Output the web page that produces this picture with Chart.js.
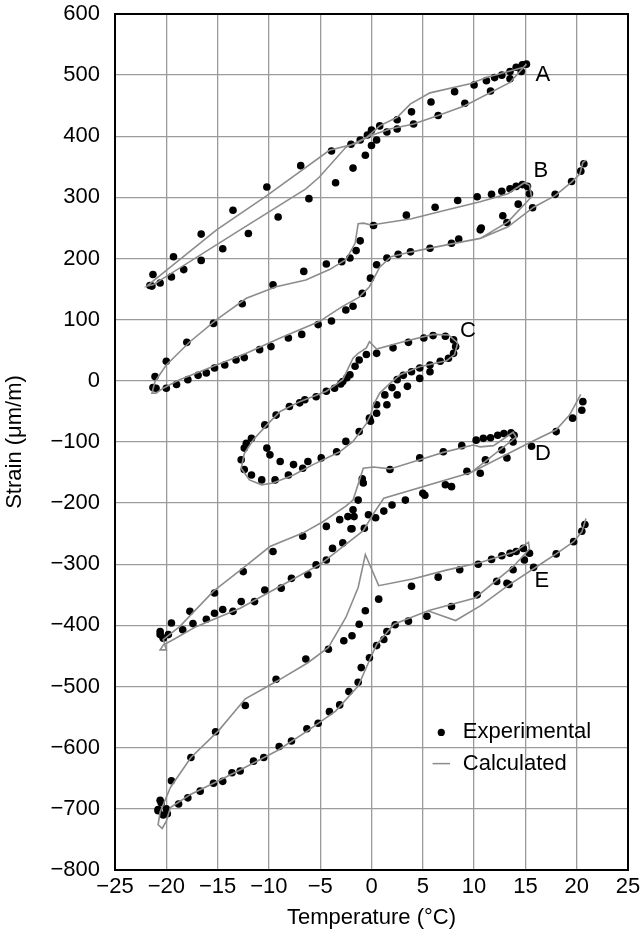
<!DOCTYPE html>
<html>
<head>
<meta charset="utf-8">
<script src="https://cdn.jsdelivr.net/npm/chart.js@4.4.1/dist/chart.umd.min.js"></script>
<style>
  html, body { margin: 0; padding: 0; background: #fff; }
  canvas { display: block; }
</style>
</head>
<body>
<canvas id="c" width="641" height="941"></canvas>
<script>
// 軸の範囲と目盛り
const xTicks = [-25, -20, -15, -10, -5, 0, 5, 10, 15, 20, 25];
const yTicks = [-800, -700, -600, -500, -400, -300, -200, -100, 0, 100, 200, 300, 400, 500, 600];

// 実測値 [温度, ひずみ]
const expA = [
  [-21.6,156],[-21.3,174],[-19.3,203],[-16.6,240],[-13.5,279],[-10.2,317],[-6.9,352],[-3.9,376],[-2.0,387],[-1.1,394],
  [-0.4,402],[0.0,410],[0.8,417],[2.5,427],[3.9,440],[5.8,456],[8.1,473],[10.0,484],[11.2,491],[12.0,496],[12.7,500],
  [13.5,506],[14.1,513],[14.7,517],[15.1,518],
  [-21.4,155],[-20.6,160],[-19.5,170],[-18.3,182],[-16.6,197],[-14.5,216],[-12.0,241],[-9.1,268],[-6.1,298],[-3.5,324],
  [-1.8,348],[-0.6,369],[0.0,385],[0.5,394],[1.5,407],[2.5,412],[4.1,420],[6.5,434],[9.1,454],[11.6,474],[13.5,494],[14.6,506]
];
const expB = [
  [0.2,254],[3.4,271],[6.2,284],[8.4,295],[10.3,301],[11.7,305],[12.7,310],[13.5,314],[14.1,318],[14.7,321],[15.2,318],[15.4,306],
  [14.3,289],[12.8,270],[13.2,259],[10.7,250],[10.6,247],[8.5,232],[7.8,225],[5.7,217],[3.8,211],[2.6,207],[1.5,201],[0.5,190],
  [-0.1,168],[-0.9,143],[-1.8,122],[-2.5,116],[-3.9,98],[-5.2,92],[-6.8,76],[-8.1,70],[-9.8,56],[-10.9,51],[-12.4,38],[-13.2,34],
  [-14.3,26],[-15.3,21],[-16.1,13],[-16.9,9],[-17.9,2],[-19.0,-6],[-20.0,-12],[-21.0,-12],[-21.3,-11],
  [-21.1,7],[-20.0,32],[-18.0,63],[-15.4,94],[-12.6,126],[-9.6,157],[-6.6,179],[-4.4,191],[-2.9,195],[-2.1,201],[-1.5,213],[-1.1,229],
  [15.7,283],[17.9,305],[19.5,326],[20.4,343],[20.7,355]
];
const expC = [
  [-11.7,-94],[-12.2,-102],[-10.4,-72],[-9.3,-56],[-8.0,-42],[-7.0,-36],[-6.5,-31],[-5.4,-26],[-4.4,-17],[-3.6,-12],[-3.0,-5],
  [-2.8,-1],[-2.4,5],[-2.1,10],[-1.6,24],[-1.2,34],[-0.5,43],[0.5,45],[2.1,54],[3.6,63],[5.1,70],[6.0,74],[7.2,73],[8.0,67],
  [8.2,56],[8.0,45],[7.5,37],[6.7,32],[5.7,26],[4.7,21],[3.9,15],[3.1,9],[2.5,2],[2.0,-11],[1.3,-23],[0.5,-39],[0.5,-53],
  [-0.1,-66],[-0.2,-61],[-1.2,-83],[-2.5,-99],[-3.4,-116],[-4.9,-126],[-6.7,-143],[-8.1,-154],[-9.4,-162],[-10.7,-162],
  [-11.7,-154],[-12.4,-145],[-12.7,-129],[-12.4,-110],
  [-10.2,-110],[-9.9,-121],[-8.9,-132],[-7.6,-137],[-6.2,-132],
  [5.7,15],[4.7,4],[3.5,-9],[2.5,-23],[1.5,-39]
];
const expD = [
  [-0.9,-160],[-0.8,-167],[-1.3,-195],[-1.8,-211],[-1.7,-222],[-2.3,-222],[-3.1,-227],[-2.0,-242],[-4.4,-238],[-6.7,-254],
  [-9.6,-279],[-12.5,-312],[-15.3,-347],[-17.7,-377],[-19.5,-396],[-20.6,-410],[-20.6,-415],
  [-20.3,-421],[-19.8,-415],[-18.4,-407],[-17.4,-397],[-16.1,-390],[-15.3,-380],[-14.5,-374],[-13.5,-377],[-12.7,-361],
  [-11.4,-361],[-10.4,-342],[-8.8,-339],[-7.8,-323],[-6.2,-317],[-5.4,-301],[-4.4,-293],[-3.8,-274],[-2.8,-265],[-1.9,-242],
  [-0.7,-241],[-0.3,-219],[0.4,-224],[1.2,-213],[2.0,-203],[3.3,-195],[5.0,-184],[5.2,-187],[7.2,-170],[7.8,-173],[9.3,-148],
  [10.6,-151],[11.1,-129],[13.2,-126],[12.7,-113],[13.8,-100],
  [1.8,-145],[4.7,-126],[7.0,-116],[8.8,-106],[10.2,-97],[10.9,-94],[11.6,-93],[12.3,-89],[12.9,-86],[13.6,-85],[13.9,-89],
  [15.6,-107],[18.0,-83],[19.6,-61],[20.5,-48],[20.6,-34]
];
const expE = [
  [-20.8,-703],[-20.6,-686],[-19.5,-654],[-17.6,-616],[-15.2,-574],[-12.3,-531],[-9.3,-488],[-6.4,-455],[-4.2,-439],[-2.7,-425],
  [-1.9,-417],[-1.2,-398],[-0.6,-376],[0.7,-357],
  [3.9,-336],[6.5,-321],[8.6,-309],[10.4,-300],[11.7,-292],[12.7,-286],[13.5,-282],[14.1,-279],[14.8,-274],[15.4,-282],
  [14.9,-293],[13.8,-309],[12.2,-328],[13.4,-333],[10.3,-350],[7.8,-369],[5.4,-385],[3.6,-393],[2.3,-399],[1.5,-410],
  [1.2,-423],[0.5,-433],
  [-0.2,-453],[-1.0,-469],[-1.3,-493],[-2.2,-508],[-3.1,-530],[-4.1,-541],[-5.2,-560],[-6.3,-569],[-7.8,-589],[-9.0,-598],
  [-10.5,-616],[-11.5,-622],[-12.8,-638],[-13.6,-641],[-14.5,-655],[-15.4,-658],[-16.7,-671],[-17.9,-682],[-18.8,-692],
  [-20.0,-700],[-20.8,-701],[-20.5,-690],[-20.3,-710],[-19.9,-708],
  [13.2,-331],[15.8,-305],[18.0,-283],[19.7,-263],[20.5,-246],[20.8,-235]
];

// 計算値（線）
const calcA = [
  [15.1,518],[13.5,488],[9.1,450],[6.5,434],[4.1,420],[1.8,412],[-0.1,401],[-1.5,388],[-4.1,377],[-10.2,303],[-15.1,247],
  [-21.9,155],[-21.3,157],[-12.8,247],[-6.4,314],[-5.1,333],[-2.5,382],[-0.5,398],[0.8,417],[2.5,431],[3.8,453],[5.7,471],
  [9.6,486],[11.2,496],[14.8,513],[15.1,518]
];
const calcB = [
  [20.9,361],[20.6,357],[20.3,338],[19.5,325],[17.9,303],[15.8,284],[13.3,252],[10.6,233],[7.2,222],[3.9,211],[1.9,203],
  [0.8,186],[-0.2,154],[-1.2,137],[-2.9,121],[-5.1,97],[-8.9,70],[-12.2,45],[-15.4,24],[-18.7,2],[-20.3,-12],[-21.0,-20],
  [-21.4,-20],[-21.1,-1],[-20.0,26],[-17.7,64],[-15.1,100],[-12.2,135],[-9.3,154],[-6.4,165],[-4.1,182],[-2.5,198],[-1.6,225],
  [-1.3,257],[-0.8,258],[0.0,255],[3.9,265],[7.2,279],[10.6,293],[13.3,306],[14.9,324],[15.4,320],[15.6,301],[13.3,260],[10.6,233]
];
const calcC = [
  [8.4,62],[7.5,75],[6.0,76],[3.1,64],[0.5,52],[-0.2,64],[-0.5,54],[-1.3,45],[-1.8,37],[-2.8,2],[-4.4,-17],[-7.0,-34],
  [-8.9,-50],[-10.2,-72],[-11.5,-96],[-12.4,-119],[-12.7,-143],[-11.9,-162],[-10.7,-170],[-9.6,-167],[-7.6,-154],[-5.7,-137],
  [-3.1,-116],[-1.8,-99],[-0.5,-70],[-0.1,-56],[0.2,-39],[0.8,-20],[1.8,-4],[2.8,10],[4.7,23],[7.3,33],[8.1,43],[8.4,62]
];
const calcD = [
  [20.4,-22],[19.3,-56],[18.0,-80],[15.3,-102],[9.7,-150],[1.2,-192],[0.2,-217],[-0.8,-245],[-4.9,-299],[-8.9,-336],
  [-12.8,-372],[-17.1,-402],[-19.3,-423],[-20.3,-432],[-20.6,-440],[-20.0,-440],[-20.3,-423],[-18.7,-402],[-15.4,-344],
  [-12.5,-306],[-9.9,-271],[-6.7,-249],[-4.7,-230],[-2.5,-205],[-1.8,-195],[-0.8,-143],[0.2,-141],[1.8,-144],[4.7,-129],
  [7.0,-117],[9.9,-105],[10.6,-108],[11.9,-106],[13.8,-84],[14.1,-92],[9.7,-150]
];
const calcE = [
  [20.9,-225],[20.5,-247],[19.7,-263],[18.0,-283],[16.9,-295],[13.3,-335],[10.6,-368],[8.2,-392],[5.5,-376],[2.2,-398],
  [0.5,-431],[-0.3,-461],[-1.3,-499],[-3.5,-540],[-6.2,-572],[-9.2,-605],[-12.3,-632],[-14.9,-654],[-17.6,-676],[-19.6,-698],
  [-20.0,-720],[-20.4,-732],[-20.8,-726],[-20.6,-705],[-19.6,-665],[-17.6,-616],[-14.9,-572],[-12.3,-520],[-9.2,-491],
  [-6.2,-461],[-4.2,-436],[-2.5,-387],[-1.3,-338],[-0.6,-284],[0.7,-335],[4.0,-324],[7.2,-310],[10.6,-297],[13.9,-280],
  [15.3,-264],[15.4,-275],[13.8,-304],[10.1,-355],[5.5,-376]
];

// ループ名の位置
const loopNames = ["A", "B", "C", "D", "E"];
const loopNameAt = [[16.7,500],[16.5,344],[9.4,81],[16.7,-119],[16.6,-328]];

const FONT = "'Liberation Sans', Arial, Helvetica, sans-serif";
const GRID = "#9b9b9b";
const LINE = "#8c8c8c";

const pts = (arr) => arr.map(p => ({ x: p[0], y: p[1] }));
const minus = (v) => String(v).replace("-", "\u2212");

const expSet = (arr) => ({
  data: pts(arr), showLine: false, order: 2,
  pointRadius: 3.8, pointHoverRadius: 3.8, pointBackgroundColor: "#000", pointBorderWidth: 0
});
const calcSet = (arr) => ({
  data: pts(arr), showLine: true, order: 1, tension: 0,
  borderColor: LINE, borderWidth: 1.6, pointRadius: 0, fill: false
});

const datasets = [expA, expB, expC, expD, expE].map(expSet)
  .concat([calcA, calcB, calcC, calcD, calcE].map(calcSet));

// 枠線・凡例・ループ名
const decor = {
  id: "decor",
  afterDatasetsDraw(chart) {
    const { ctx, chartArea: a, scales: { x, y } } = chart;
    ctx.save();
    ctx.fillStyle = "#000";
    ctx.font = "22px " + FONT;
    ctx.textAlign = "center";
    ctx.textBaseline = "middle";
    loopNames.forEach((n, i) => {
      ctx.fillText(n, x.getPixelForValue(loopNameAt[i][0]), y.getPixelForValue(loopNameAt[i][1]));
    });

    // 凡例
    const r1 = y.getPixelForValue(-575), r2 = y.getPixelForValue(-626);
    ctx.beginPath();
    ctx.arc(x.getPixelForValue(6.8), r1, 3.6, 0, Math.PI * 2);
    ctx.fill();
    ctx.strokeStyle = LINE; ctx.lineWidth = 1.5;
    ctx.beginPath();
    ctx.moveTo(x.getPixelForValue(5.95), r2);
    ctx.lineTo(x.getPixelForValue(7.65), r2);
    ctx.stroke();
    ctx.textAlign = "left";
    ctx.fillText("Experimental", x.getPixelForValue(8.9), r1);
    ctx.fillText("Calculated", x.getPixelForValue(8.9), r2);

    ctx.strokeStyle = "#000"; ctx.lineWidth = 2;
    ctx.strokeRect(a.left, a.top, a.right - a.left, a.bottom - a.top);
    ctx.restore();
  }
};

new Chart(document.getElementById("c"), {
  type: "scatter",
  data: { datasets },
  options: {
    responsive: false,
    animation: false,
    events: [],
    layout: { padding: { top: 14, right: 13, left: 0, bottom: 0 } },
    plugins: { legend: { display: false }, tooltip: { enabled: false } },
    scales: {
      x: {
        type: "linear", min: -25, max: 25,
        afterBuildTicks: (s) => { s.ticks = xTicks.map(v => ({ value: v })); },
        afterFit: (s) => { s.height = 71; s.paddingLeft = 0; s.paddingRight = 0; },
        ticks: { color: "#000", font: { family: FONT, size: 22 }, padding: 4, maxRotation: 0, callback: minus },
        grid: { color: GRID, lineWidth: 1.3, drawTicks: false },
        border: { display: false },
        title: { display: true, text: "Temperature (\u00b0C)", color: "#000", font: { family: FONT, size: 22 }, padding: { top: 0, bottom: 10 } }
      },
      y: {
        type: "linear", min: -800, max: 600,
        afterBuildTicks: (s) => { s.ticks = yTicks.map(v => ({ value: v })); },
        afterFit: (s) => { s.width = 115; s.paddingTop = 0; s.paddingBottom = 0; },
        ticks: { color: "#000", font: { family: FONT, size: 22 }, padding: 15, callback: minus },
        grid: { color: GRID, lineWidth: 1.3, drawTicks: false },
        border: { display: false },
        title: { display: true, text: "Strain (\u03bcm/m)", color: "#000", font: { family: FONT, size: 22 }, padding: { top: 2, bottom: 0 } }
      }
    }
  },
  plugins: [decor]
});
</script>
</body>
</html>
